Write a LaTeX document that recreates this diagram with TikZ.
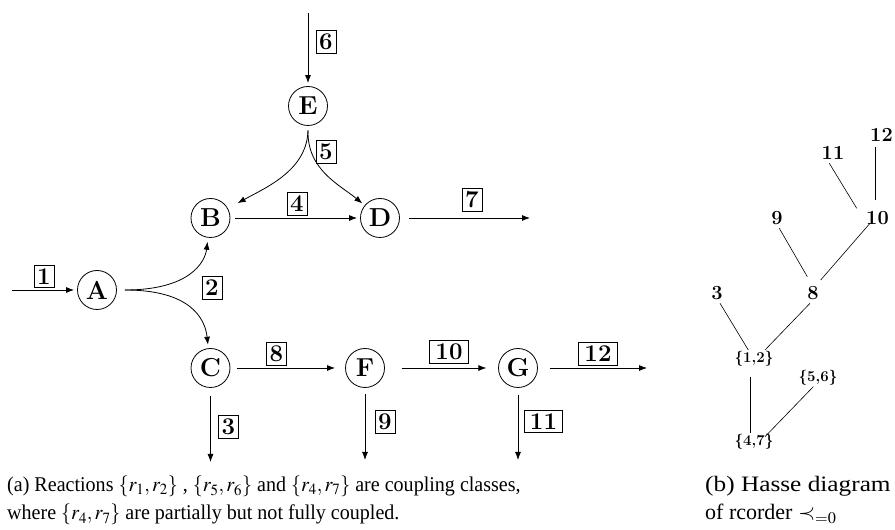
\documentclass[tikz,border=0pt]{standalone}
\usepackage{mathptmx}
\usepackage{fontspec}
\renewcommand{\rmdefault}{lmr}
\newfontfamily\capfont{Liberation Serif}
\usetikzlibrary{arrows.meta}
\tikzset{
  state/.style={circle, draw, line width=0.8pt, minimum size=39pt, inner sep=0pt, font=\fontsize{26}{26}\selectfont\bfseries},
  rlabel/.style={draw, line width=0.7pt, inner xsep=3.3pt, inner ysep=3.4pt, font=\fontsize{24}{24}\selectfont\bfseries},
  wide/.style={inner xsep=5.8pt},
  flow/.style={-{Latex[length=8pt,width=6pt]}, line width=0.8pt},
  hnum/.style={inner sep=0pt, font=\fontsize{20}{20}\selectfont\bfseries},
  hset/.style={inner sep=0pt, font=\fontsize{15}{15}\selectfont\bfseries},
  hedge/.style={line width=0.6pt},
  captext/.style={anchor=base west, inner sep=0pt, font=\capfont\fontsize{21}{28}\selectfont},
  captextb/.style={anchor=base west, inner sep=0pt, font=\capfont\fontsize{22}{28}\selectfont}
}
\begin{document}
\begin{tikzpicture}[x=1pt,y=1pt]
\useasboundingbox (0,0) rectangle (895,530);
% species
\node[state] (A) at (97,240) {A};
\node[state] (B) at (210.5,312) {B};
\node[state] (D) at (380,312) {D};
\node[state] (E) at (308,424) {E};
\node[state] (C) at (210.5,162) {C};
\node[state] (F) at (365,162) {F};
\node[state] (G) at (518,162) {G};
% free ends
\coordinate (in1) at (12,240);
\coordinate (in6) at (308,517);
\coordinate (out7) at (530,312);
\coordinate (out3) at (210.5,68);
\coordinate (out9) at (365,70);
\coordinate (out11) at (518,70);
\coordinate (out12) at (647,162);
% reaction labels
\node[rlabel] (l1) at (44,253.5) {1};
\node[rlabel] (l6) at (326,488) {6};
\node[rlabel] (l5) at (326,378) {5};
\node[rlabel] (l4) at (297,326) {4};
\node[rlabel] (l7) at (472,330) {7};
\node[rlabel] (l2) at (212,242) {2};
\node[rlabel] (l8) at (276.5,176) {8};
\node[rlabel] (l3) at (228.5,103.5) {3};
\node[rlabel,wide] (l10) at (449,178) {10};
\node[rlabel,wide] (l12) at (598,176) {12};
\node[rlabel] (l9) at (385,108.5) {9};
\node[rlabel,wide] (l11) at (543.5,108.5) {11};
% reactions
\draw[flow, shorten >=3pt] (in1) -- (A);
\draw[flow, shorten >=3pt] (in6) -- (E);
\draw[flow, shorten >=11pt] ([yshift=-4.5pt]E.south) .. controls (307,360) and (267,343) .. (B);
\draw[flow, shorten >=3pt] ([yshift=-4.5pt]E.south) .. controls (307,360) and (340,345) .. (D);
\draw[flow, shorten <=5pt, shorten >=3pt] (B) -- (D);
\draw[flow, shorten <=9pt] (D) -- (out7);
\draw[flow, shorten >=4pt] ([xshift=8pt]A.east) .. controls (190,240) and (205,268) .. (B);
\draw[flow, shorten >=3.5pt] ([xshift=8pt]A.east) .. controls (190,240) and (205,212) .. (C);
\draw[flow, shorten <=6.7pt, shorten >=10pt] (C) -- (F);
\draw[flow, shorten <=8pt] (C) -- (out3);
\draw[flow, shorten <=16.7pt, shorten >=11.7pt] (F) -- (G);
\draw[flow, shorten <=6.5pt] (F) -- (out9);
\draw[flow, shorten <=11.7pt] (G) -- (out12);
\draw[flow, shorten <=6.7pt] (G) -- (out11);
% Hasse diagram
\node[hnum] (n12) at (881.5,395) {12};
\node[hnum] (n11) at (833,376.7) {11};
\node[hnum] (n10) at (877.5,311.7) {10};
\node[hnum] (n9) at (777,311.7) {9};
\node[hnum] (n3) at (717,236.7) {3};
\node[hnum] (n8) at (813,236.7) {8};
\node[hset] (s12) at (754,171) {\{1,2\}};
\node[hset] (s56) at (818,152) {\{5,6\}};
\node[hset] (s47) at (754,88.3) {\{4,7\}};
\draw[hedge] ([shift={(-5.8pt,-11.7pt)}]n12.center) -- ([shift={(-1.8pt,18.3pt)}]n10.center);
\draw[hedge] ([shift={(-3.7pt,-10pt)}]n11.center) -- ([shift={(-20.8pt,10pt)}]n10.center);
\draw[hedge] ([shift={(-7.5pt,-5pt)}]n10.center) -- ([shift={(7.7pt,13.3pt)}]n8.center);
\draw[hedge] ([shift={(2.3pt,-10pt)}]n9.center) -- ([shift={(-5.7pt,16.6pt)}]n8.center);
\draw[hedge] ([shift={(3pt,-10pt)}]n3.center) -- ([shift={(-5.7pt,9pt)}]s12.center);
\draw[hedge] ([shift={(-3pt,-10pt)}]n8.center) -- ([shift={(11pt,9pt)}]s12.center);
\draw[hedge] ([shift={(-3.3pt,-17.7pt)}]s12.center) -- ([shift={(-3.3pt,8.4pt)}]s47.center);
\draw[hedge] ([shift={(-4.7pt,-8.7pt)}]s56.center) -- ([shift={(11pt,5pt)}]s47.center);
% captions
\node[captext] (capa1) at (7,38.3) {\scalebox{0.955}[1]{(a) Reactions $\{r_1,r_2\}$ , $\{r_5,r_6\}$ and $\{r_4,r_7\}$ are coupling classes,}};
\node[captext] (capa2) at (7,10) {\scalebox{0.955}[1]{where $\{r_4,r_7\}$ are partially but not fully coupled.}};
\node[captextb] (capb1) at (705,38) {\scalebox{1.15}[1]{(b) Hasse diagram}};
\node[captextb] (capb2) at (705,10) {of rcorder $\prec_{=0}$};
\end{tikzpicture}
\end{document}
